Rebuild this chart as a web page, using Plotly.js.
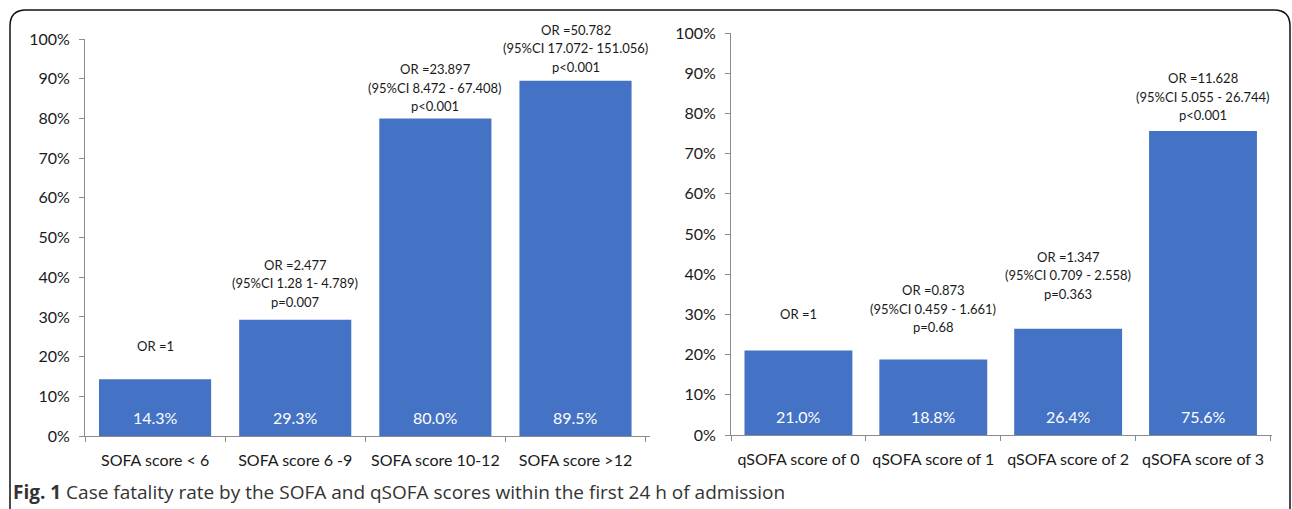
<!DOCTYPE html>
<html>
<head>
<meta charset="utf-8">
<script src="https://cdn.plot.ly/plotly-3.0.1.min.js"></script>
<style>html,body{margin:0;padding:0;background:#fff;}#chart{width:1292px;height:509px;}</style>
</head>
<body>
<div id="chart"></div>
<script>
var sofaCategories = ["SOFA score < 6", "SOFA score 6 -9", "SOFA score 10-12", "SOFA score >12"];
var sofaRates = [0.143, 0.293, 0.800, 0.895];
var sofaLabels = ["14.3%", "29.3%", "80.0%", "89.5%"];
var sofaOR = ["OR =1", "OR =2.477<br>(95%CI 1.28 1- 4.789)<br>p=0.007", "OR =23.897<br>(95%CI 8.472 - 67.408)<br>p<0.001", "OR =50.782<br>(95%CI 17.072- 151.056)<br>p<0.001"];

var qsofaCategories = ["qSOFA score of 0", "qSOFA score of 1", "qSOFA score of 2", "qSOFA score of 3"];
var qsofaRates = [0.210, 0.188, 0.264, 0.756];
var qsofaLabels = ["21.0%", "18.8%", "26.4%", "75.6%"];
var qsofaOR = ["OR =1", "OR =0.873<br>(95%CI 0.459 - 1.661)<br>p=0.68", "OR =1.347<br>(95%CI 0.709 - 2.558)<br>p=0.363", "OR =11.628<br>(95%CI 5.055 - 26.744)<br>p<0.001"];

var yTickVals = [0, 0.1, 0.2, 0.3, 0.4, 0.5, 0.6, 0.7, 0.8, 0.9, 1.0];
var yTickText = ["0%", "10%", "20%", "30%", "40%", "50%", "60%", "70%", "80%", "90%", "100%"];

var sofaGaps = [23, 8, 2, 4];
var qsofaGaps = [27, 22, 25, 6];

var W = 1292, H = 509;
function px(x){return x/W;}
function py(y){return 1 - y/H;}

var FONT = "Lato, 'Open Sans', sans-serif";
var barColor = "#4472C4";
var axisColor = "#8c8c8c";

var traces = [
  {type:"bar", x:sofaCategories, y:sofaRates, xaxis:"x", yaxis:"y", marker:{color:barColor}, hoverinfo:"none"},
  {type:"bar", x:qsofaCategories, y:qsofaRates, xaxis:"x2", yaxis:"y2", marker:{color:barColor}, hoverinfo:"none"}
];

var annotations = [];
function addAnn(cats, rates, labels, ors, gaps, xr, yr){
  for (var i=0;i<cats.length;i++){
    var lines = ors[i].split("<br>");
    for (var j=0;j<lines.length;j++){
      annotations.push({x:cats[i], y:rates[i], xref:xr, yref:yr, text:lines[j], showarrow:false,
        yanchor:"bottom", xanchor:"center", yshift:gaps[i] + (lines.length-1-j)*18.5, align:"center",
        font:{family:FONT, size:13, color:"#1a1a1a"}});
    }
    annotations.push({x:cats[i], y:0, xref:xr, yref:yr, text:labels[i], showarrow:false,
      yanchor:"middle", xanchor:"center", yshift:19,
      font:{family:FONT, size:16, color:"#ffffff"}});
  }
}
addAnn(sofaCategories, sofaRates, sofaLabels, sofaOR, sofaGaps, "x", "y");
addAnn(qsofaCategories, qsofaRates, qsofaLabels, qsofaOR, qsofaGaps, "x2", "y2");

annotations.push({xref:"paper", yref:"paper", x:px(11), y:py(492), xanchor:"left", yanchor:"middle", showarrow:false,
  text:"<b>Fig. 1</b> Case fatality rate by the SOFA and qSOFA scores within the first 24 h of admission",
  font:{family:"'Open Sans', sans-serif", size:19, color:"#333333"}});

function xAxis(domain){
  return {domain:domain, type:"category", showgrid:false, zeroline:false, showline:true, linecolor:axisColor, linewidth:1,
    ticks:"outside", tickson:"boundaries", ticklen:5, tickcolor:axisColor, ticklabelstandoff:10,
    tickfont:{family:FONT, size:16, color:"#1a1a1a"}, fixedrange:true};
}
function yAxis(domain, anchor){
  return {domain:domain, anchor:anchor, range:[0,1], showgrid:false, zeroline:false, showline:true, linecolor:axisColor, linewidth:1,
    ticks:"outside", ticklen:5, tickcolor:axisColor, tickvals:yTickVals, ticktext:yTickText, ticklabelstandoff:6,
    tickfont:{family:FONT, size:16, color:"#1a1a1a"}, fixedrange:true};
}

var xa = xAxis([px(85), px(650)]); xa.anchor = "y";
var xa2 = xAxis([px(731), px(1272)]); xa2.anchor = "y2";

var borderPath = "M " + px(10) + "," + py(530) + " L " + px(10) + "," + py(26) +
  " Q " + px(10) + "," + py(10) + " " + px(26) + "," + py(10) +
  " L " + px(1274) + "," + py(10) +
  " Q " + px(1290) + "," + py(10) + " " + px(1290) + "," + py(26) +
  " L " + px(1290) + "," + py(530);

var layout = {
  width:W, height:H, margin:{l:0,r:0,t:0,b:0}, paper_bgcolor:"#ffffff", plot_bgcolor:"#ffffff",
  showlegend:false, bargap:0.2,
  xaxis:xa, xaxis2:xa2,
  yaxis:yAxis([py(436), py(39)], "x"),
  yaxis2:yAxis([py(435), py(33)], "x2"),
  annotations:annotations,
  shapes:[{type:"path", xref:"paper", yref:"paper", path:borderPath, line:{color:"#111111", width:1.5}}],
  font:{family:FONT}
};

Plotly.newPlot("chart", traces, layout, {displayModeBar:false, staticPlot:true});
</script>
</body>
</html>
